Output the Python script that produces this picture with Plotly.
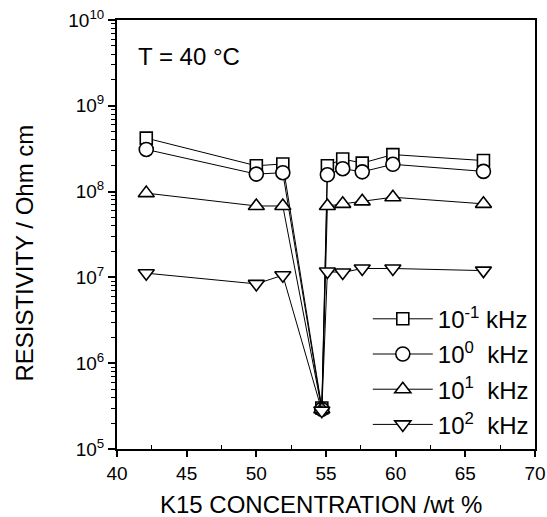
import plotly.graph_objects as go

conc = [42.1, 50.0, 51.9, 54.7, 55.1, 56.2, 57.6, 59.8, 66.3]
rho_01 = [4.2e8, 2.0e8, 2.1e8, 3.0e5, 2.0e8, 2.4e8, 2.15e8, 2.7e8, 2.3e8]
rho_1 = [3.1e8, 1.6e8, 1.66e8, 2.9e5, 1.57e8, 1.85e8, 1.7e8, 2.08e8, 1.72e8]
rho_10 = [9.6e7, 6.8e7, 6.8e7, 2.9e5, 6.8e7, 7.2e7, 7.7e7, 8.6e7, 7.2e7]
rho_100 = [1.12e7, 8.4e6, 1.06e7, 2.8e5, 1.17e7, 1.14e7, 1.27e7, 1.27e7, 1.2e7]

series = [
    ("10<sup>-1</sup> kHz", rho_01, "square", 12),
    ("10<sup>0</sup>  kHz", rho_1, "circle", 14),
    ("10<sup>1</sup>  kHz", rho_10, "triangle-up", 14),
    ("10<sup>2</sup>  kHz", rho_100, "triangle-down", 14),
]

xticks = [40, 45, 50, 55, 60, 65, 70]
yvals = [1e5, 1e6, 1e7, 1e8, 1e9, 1e10]
ytext = ["10<sup>5</sup>", "10<sup>6</sup>", "10<sup>7</sup>", "10<sup>8</sup>", "10<sup>9</sup>", "10<sup>10</sup>"]

FONT = "Liberation Sans, Arial, sans-serif"

fig = go.Figure()
for i, (name, vals, sym, sz) in enumerate(series):
    fig.add_trace(go.Scatter(
        x=conc, y=vals, name=name, mode="lines+markers",
        legendgroup=f"g{i}",
        line=dict(color="black", width=1),
        marker=dict(symbol=sym, size=sz, color="white",
                    line=dict(color="black", width=1.6)),
    ))

fig.add_annotation(x=0.045, y=0.914, xref="paper", yref="paper",
                   text="T = 40 °C", showarrow=False, xanchor="left", yanchor="middle",
                   font=dict(size=24, color="black", family=FONT))

# axis titles
fig.add_annotation(x=0.488, y=-0.1305, xref="paper", yref="paper",
                   text="K15 CONCENTRATION /wt %", showarrow=False,
                   xanchor="center", yanchor="middle",
                   font=dict(size=24, color="black", family=FONT))
fig.add_annotation(x=-0.221, y=0.457, xref="paper", yref="paper",
                   text="RESISTIVITY / Ohm cm", showarrow=False, textangle=-90,
                   xanchor="center", yanchor="middle",
                   font=dict(size=24, color="black", family=FONT))

fig.update_layout(
    width=547, height=517,
    margin=dict(l=117, r=12, t=20, b=68),
    paper_bgcolor="white", plot_bgcolor="white",
    font=dict(family=FONT, color="black", size=19),
    showlegend=True,
    legend=dict(x=0.6, y=0.355, xanchor="left", yanchor="top",
                bgcolor="rgba(0,0,0,0)", borderwidth=0,
                font=dict(size=24, family=FONT, color="black"),
                itemwidth=60, tracegroupgap=1),
    xaxis=dict(range=[40, 70], tickvals=xticks,
               ticks="outside", ticklen=6, tickwidth=1.5, tickcolor="black",
               showline=True, linecolor="black", linewidth=2, mirror=True,
               showgrid=False, zeroline=False, automargin=False,
               ticklabeloverflow="allow",
               tickfont=dict(size=19),
               minor=dict(tickvals=[42.5, 47.5, 52.5, 57.5, 62.5, 67.5],
                          ticks="inside", ticklen=4, tickwidth=1.2, tickcolor="black")),
    yaxis=dict(type="log", range=[5, 10], tickvals=yvals, ticktext=ytext,
               ticks="outside", ticklen=7, tickwidth=1.5, tickcolor="black",
               showline=True, linecolor="black", linewidth=2, mirror=True,
               showgrid=False, zeroline=False, automargin=False,
               ticklabeloverflow="allow",
               tickfont=dict(size=19),
               minor=dict(dtick="D1", ticks="outside", ticklen=4, tickwidth=1, tickcolor="black")),
)

fig.write_html("out.html")
